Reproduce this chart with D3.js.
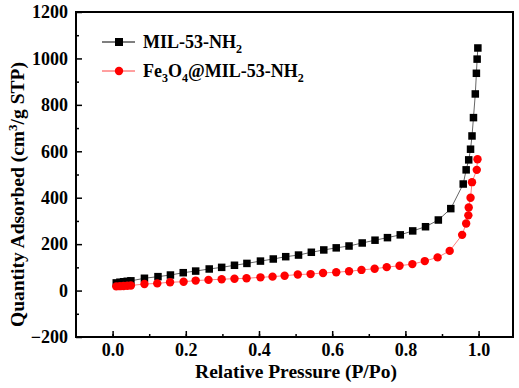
<!DOCTYPE html>
<html><head><meta charset="utf-8">
<script src="https://cdnjs.cloudflare.com/ajax/libs/d3/7.8.5/d3.min.js"></script>
<style>body{margin:0;background:#fff}svg{display:block}text{font-family:"Liberation Serif","Times New Roman",serif;font-weight:bold;fill:#000}</style>
</head><body><svg id="c" width="519" height="388"></svg>
<script>
const seriesNames = ["MIL-53-NH2", "Fe3O4@MIL-53-NH2"];
const milP = [0.010,0.020,0.030,0.040,0.050,0.087,0.124,0.158,0.193,0.227,0.264,0.298,0.333,0.367,0.404,0.439,0.473,0.508,0.543,0.577,0.611,0.646,0.682,0.717,0.751,0.786,0.820,0.855,0.890,0.924,0.958,0.966,0.973,0.978,0.982,0.986,0.991,0.994,0.996,0.998];
const milQ = [33,36,38,40,42,53,60,67,77,84,93,100,109,117,127,136,146,153,165,175,184,192,205,217,228,240,257,275,304,353,459,520,563,609,666,745,847,936,997,1045];
const feP = [0.010,0.020,0.030,0.040,0.050,0.087,0.122,0.157,0.194,0.227,0.262,0.298,0.333,0.366,0.404,0.437,0.470,0.506,0.541,0.575,0.611,0.646,0.680,0.716,0.749,0.784,0.819,0.853,0.888,0.921,0.955,0.966,0.972,0.973,0.978,0.982,0.995,0.997];
const feQ = [18,19,20,21,22,28,31,36,38,43,46,49,51,53,57,60,64,69,71,76,79,83,89,94,101,107,114,127,143,171,240,289,324,358,400,467,520,566];
const xTicks = [0.0,0.2,0.4,0.6,0.8,1.0];
const yTicks = [-200,0,200,400,600,800,1000,1200];

const svg = d3.select("#c");
const L=76,R=513,T=12,B=337;
const x = d3.scaleLinear().domain([-0.1,1.094]).range([L,R]);
const y = d3.scaleLinear().domain([-200,1200]).range([B,T]);

// data
const line = d3.line().x(d=>x(d[0])).y(d=>y(d[1]));
const mil = milP.map((p,i)=>[p,milQ[i]]);
const fe = feP.map((p,i)=>[p,feQ[i]]);
svg.append("path").attr("d",line(mil)).attr("fill","none").attr("stroke","#666").attr("stroke-width",1);
svg.append("path").attr("d",line(fe)).attr("fill","none").attr("stroke","#ff8080").attr("stroke-width",1);
svg.selectAll(".sq").data(mil).enter().append("rect")
  .attr("x",d=>x(d[0])-3.75).attr("y",d=>y(d[1])-3.75).attr("width",7.5).attr("height",7.5).attr("fill","#000");
svg.selectAll(".ci").data(fe).enter().append("circle")
  .attr("cx",d=>x(d[0])).attr("cy",d=>y(d[1])).attr("r",4.2).attr("fill","#ff0000");

// axes
svg.append("g").attr("transform",`translate(0,${B})`)
  .call(d3.axisBottom(x).tickValues(d3.range(0,1.05,0.1)).tickSize(-3).tickFormat(""));
const xAx2 = svg.append("g").attr("transform",`translate(0,${B})`)
  .call(d3.axisBottom(x).tickValues(xTicks).tickSize(-6).tickPadding(6).tickFormat(d3.format(".1f")));
svg.append("g").attr("transform",`translate(${L},0)`)
  .call(d3.axisLeft(y).tickValues(d3.range(-100,1200,200)).tickSize(-3).tickFormat(""));
svg.append("g").attr("transform",`translate(${L},0)`)
  .call(d3.axisLeft(y).tickValues(yTicks).tickSize(-6).tickPadding(8).tickFormat(d3.format("d")));
svg.selectAll(".domain").remove();
svg.selectAll(".tick line").attr("stroke","#000").attr("stroke-width",1.5);
svg.selectAll(".tick text").style("font-size","18px").style("font-family","'Liberation Serif',serif").style("font-weight","bold").attr("fill","#000");
xAx2.selectAll(".tick text").attr("dy","0.71em");
svg.append("rect").attr("x",L).attr("y",T).attr("width",R-L).attr("height",B-T).attr("fill","none").attr("stroke","#000").attr("stroke-width",2);

// titles
svg.append("text").attr("x",296).attr("y",378).attr("text-anchor","middle").style("font-size","19.5px").text("Relative Pressure (P/Po)");
const yt = svg.append("text").attr("transform","translate(24,327) rotate(-90)").attr("text-anchor","start").style("font-size","19.5px");
yt.append("tspan").text("Quantity Adsorbed (cm");
yt.append("tspan").attr("dy",-7).style("font-size","13px").text("3");
yt.append("tspan").attr("dy",7).text("/g STP)");

// legend
function sub(t, parts){ parts.forEach(p=>{ const s=t.append("tspan").text(p[0]); if(p[1]){s.attr("dy",5).style("font-size","12px");} else if(p[2]){s.attr("dy",-5);} }); }
const lg = svg.append("g");
lg.append("line").attr("x1",102).attr("x2",135).attr("y1",42).attr("y2",42).attr("stroke","#000").attr("stroke-width",1);
lg.append("rect").attr("x",115).attr("y",38).attr("width",8).attr("height",8).attr("fill","#000");
lg.append("line").attr("x1",102).attr("x2",135).attr("y1",71).attr("y2",71).attr("stroke","#ff4040").attr("stroke-width",1);
lg.append("circle").attr("cx",119).attr("cy",71).attr("r",4.2).attr("fill","#ff0000");
const t1 = lg.append("text").attr("x",143).attr("y",48).style("font-size","18px");
sub(t1,[["MIL-53-NH"],["2",1],["",0,1]]);
const t2 = lg.append("text").attr("x",143).attr("y",77).style("font-size","18px");
sub(t2,[["Fe"],["3",1],["O",0,1],["4",1],["@MIL-53-NH",0,1],["2",1]]);
</script></body></html>
